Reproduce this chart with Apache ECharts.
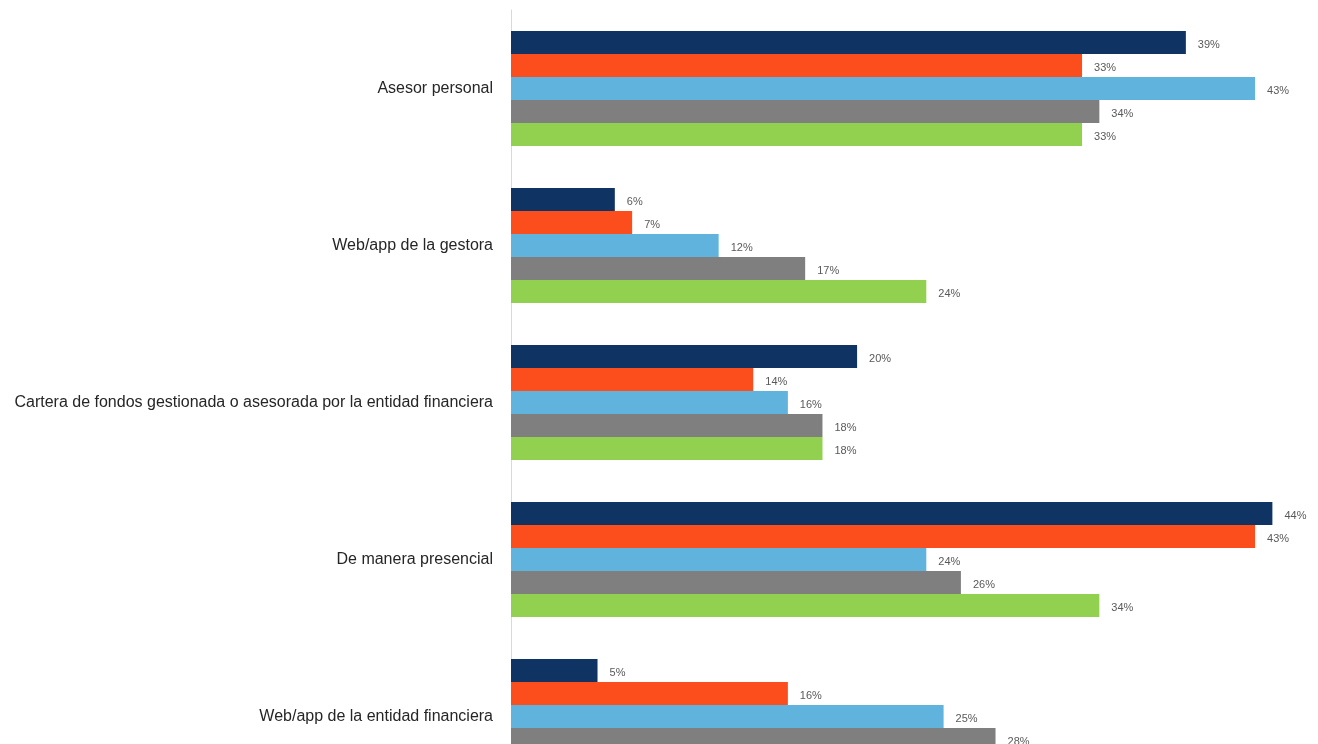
<!DOCTYPE html>
<html>
<head>
<meta charset="utf-8">
<script src="https://cdn.jsdelivr.net/npm/echarts@6/dist/echarts.min.js"></script>
<style>
html,body{margin:0;padding:0;background:#fff;overflow:hidden;}
#c{width:1318px;height:800px;}
</style>
</head>
<body>
<div id="c"></div>
<script>
const categories = [
  "Asesor personal",
  "Web/app de la gestora",
  "Cartera de fondos gestionada o asesorada por la entidad financiera",
  "De manera presencial",
  "Web/app de la entidad financiera"
];
const seriesNames = ["Serie 1", "Serie 2", "Serie 3", "Serie 4", "Serie 5"];
const serie1 = [39, 6, 20, 44, 5];
const serie2 = [33, 7, 14, 43, 16];
const serie3 = [43, 12, 16, 24, 25];
const serie4 = [34, 17, 18, 26, 28];
const serie5 = [33, 24, 18, 34, 30];
const colors = ["#0F3363", "#FC4E1C", "#5FB3DC", "#7F7F7F", "#92D050"];

const allData = [serie1, serie2, serie3, serie4, serie5];
const chart = echarts.init(document.getElementById('c'));
chart.setOption({
  animation: false,
  grid: { left: 511, right: 11, top: 10, bottom: 5 },
  xAxis: {
    type: 'value', min: 0, max: 46,
    show: false
  },
  yAxis: {
    type: 'category', data: categories, inverse: true,
    axisLine: { show: true, lineStyle: { color: '#D9D9D9', width: 1 } },
    axisTick: { show: false },
    axisLabel: { color: '#262626', fontSize: 16, fontFamily: 'Liberation Sans, Arial, sans-serif', margin: 18 }
  },
  series: allData.map((d, i) => ({
    name: seriesNames[i],
    type: 'bar',
    data: d,
    barWidth: 23,
    barGap: '0%',
    itemStyle: { color: colors[i] },
    label: {
      show: true, position: 'right', distance: 12, offset: [0, 2],
      formatter: '{c}%', color: '#595959', fontSize: 11,
      fontFamily: 'Liberation Sans, Arial, sans-serif'
    }
  }))
});
</script>
</body>
</html>
